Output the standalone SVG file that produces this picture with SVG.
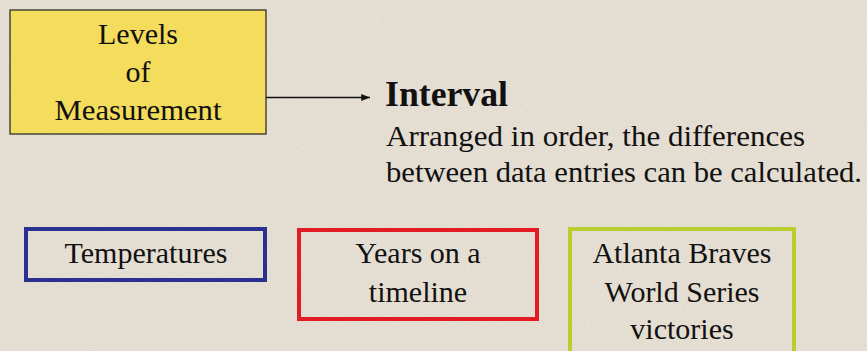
<svg xmlns="http://www.w3.org/2000/svg" width="867" height="351" viewBox="0 0 867 351">
  <style>
    text { font-family: "Liberation Serif", "Times New Roman", serif; fill: #111; }
    .c { text-anchor: middle; font-size: 30px; }
    .body { font-size: 30px; }
    .box { fill: none; stroke-width: 4; }
  </style>
  <defs>
    <filter id="grain" x="0" y="0" width="100%" height="100%">
      <feTurbulence type="fractalNoise" baseFrequency="0.9" numOctaves="2" seed="3" result="n"/>
      <feColorMatrix type="matrix" values="0 0 0 0 0.55  0 0 0 0 0.5  0 0 0 0 0.42  0 0 0 -1.6 0.9" result="dots"/>
      <feComposite in="dots" in2="SourceGraphic" operator="in"/>
    </filter>
    <marker id="ah" viewBox="0 0 10 8" refX="10" refY="4" markerWidth="9" markerHeight="7" markerUnits="userSpaceOnUse" orient="auto">
      <path d="M0,0 L10,4 L0,8 Z" fill="#111"/>
    </marker>
  </defs>
  <rect width="867" height="351" fill="#e6dfd4"/>
  <rect width="867" height="351" fill="#e6dfd4" filter="url(#grain)" opacity="0.35"/>

  <g id="connectors">
    <line x1="266" y1="97.5" x2="370" y2="97.5" stroke="#111" stroke-width="1.4" marker-end="url(#ah)"/>
  </g>

  <g id="levels">
    <rect x="10" y="10" width="256" height="124" fill="#f4dc5c" stroke="#222" stroke-width="1.2"/>
    <text class="c" x="138" y="44">Levels</text>
    <text class="c" x="138" y="82">of</text>
    <text class="c" x="138" y="120" textLength="167" lengthAdjust="spacingAndGlyphs">Measurement</text>
  </g>

  <g id="interval">
    <text x="385" y="106" font-size="35" font-weight="bold" textLength="123" lengthAdjust="spacingAndGlyphs">Interval</text>
    <text class="body" x="386" y="146" textLength="419" lengthAdjust="spacingAndGlyphs">Arranged in order, the differences</text>
    <text class="body" x="386" y="182" textLength="476" lengthAdjust="spacingAndGlyphs">between data entries can be calculated.</text>
  </g>

  <g id="temperatures">
    <rect class="box" x="26" y="229" width="239" height="51" stroke="#2b2f8f"/>
    <text class="c" x="146" y="263">Temperatures</text>
  </g>

  <g id="years">
    <rect class="box" x="299" y="230" width="238" height="89" stroke="#e31b25"/>
    <text class="c" x="418" y="263">Years on a</text>
    <text class="c" x="418" y="302">timeline</text>
  </g>

  <g id="braves">
    <rect class="box" x="570" y="229" width="224" height="140" stroke="#b6cf2f"/>
    <text class="c" x="682" y="263">Atlanta Braves</text>
    <text class="c" x="682" y="302">World Series</text>
    <text class="c" x="682" y="339">victories</text>
  </g>
</svg>
